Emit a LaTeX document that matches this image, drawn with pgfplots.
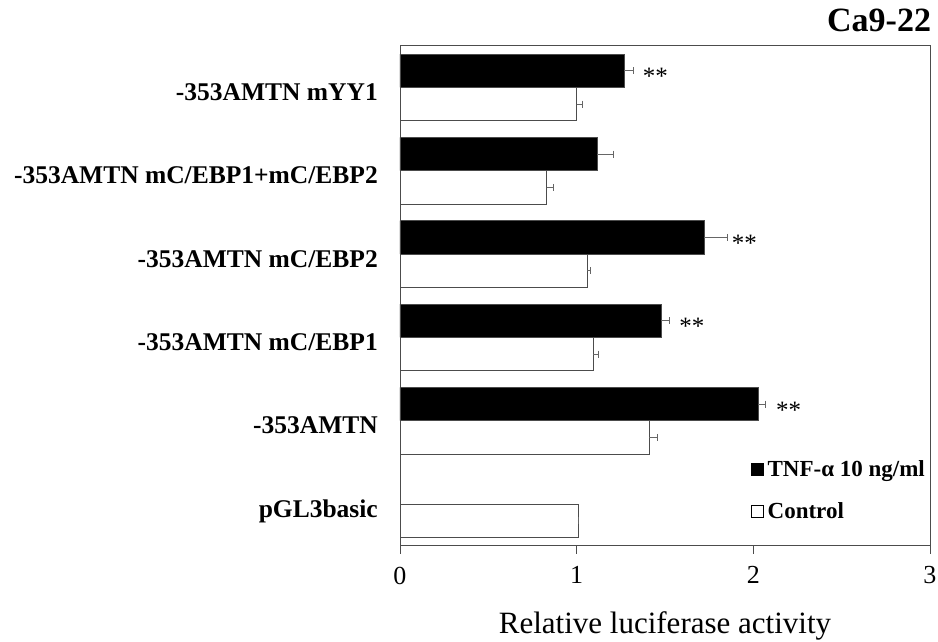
\documentclass[border=0pt]{standalone}
\usepackage{pgfplots}
\pgfplotsset{compat=1.18}
\usepackage{fontspec}
\setmainfont{Liberation Serif}
\pgfplotstableread{
y    tnf   tnferr
1.2  2.026 0.04
2.2  1.477 0.05
3.2  1.72  0.13
4.2  1.117 0.09
5.2  1.27  0.05
}\tnfdata
\pgfplotstableread{
y    ctl   ctlerr
-0.2 1.007 0.005
0.8  1.41  0.045
1.8  1.094 0.03
2.8  1.06  0.02
3.8  0.83  0.04
4.8  1.00  0.03
}\ctldata
\begin{document}
\begin{tikzpicture}[x=1pt,y=1pt]
\useasboundingbox (-400,-95.3) rectangle (538,545.7);
\begin{axis}[
  at={(0,0)}, anchor=south west,
  scale only axis, width=530pt, height=500pt,
  xmin=0, xmax=3, ymin=-0.5, ymax=5.5,
  axis line style={draw=black!70, line width=0.7pt},
  xtick={0,1,2,3}, ytick={0,1,2,3,4,5},
  yticklabels={pGL3basic,-353AMTN,-353AMTN mC/EBP1,-353AMTN mC/EBP2,-353AMTN mC/EBP1+mC/EBP2,-353AMTN mYY1},
  yticklabel style={font=\fontsize{25.5}{30}\selectfont\bfseries, anchor=base east, inner sep=0pt, xshift=-14pt, yshift=-13pt},
  ytick style={draw=none},
  xtick pos=lower, tick align=outside, major tick length=8pt,
  xtick style={draw=black!70, line width=0.7pt},
  xticklabel style={font=\fontsize{26}{30}\selectfont, yshift=-9.5pt},
  /pgf/number format/assume math mode=true,
  xlabel={Relative luciferase activity},
  xlabel style={font=\fontsize{31}{36}\selectfont, at={(axis description cs:0.5,-0.175)}, anchor=base},
  title={Ca9-22},
  title style={font=\fontsize{34}{40}\selectfont\bfseries, at={(axis description cs:0.904,1.028)}, anchor=base, yshift=-6pt},
  legend style={at={(rel axis cs:0.662,0.175)}, anchor=north west, draw=none, fill=none,
    font=\fontsize{23}{26}\selectfont\bfseries, row sep=21pt, inner sep=0pt,
    nodes={inner sep=2pt}, cells={anchor=west}},
  legend image code/.code={\draw[#1, draw=black, line width=0.6pt] (0pt,-6pt) rectangle (12pt,6pt);},
  legend cell align=left,
]
\addplot[xbar, bar width=0.4, bar shift=0, fill=black, draw=black!70, line width=0.6pt,
  error bars/.cd, x dir=plus, x explicit, error mark=|,
  error bar style={draw=black!60, line width=0.6pt},
  error mark options={draw=black!60, line width=0.6pt, mark size=3.5pt}]
  table[x=tnf, y=y, x error=tnferr] {\tnfdata};
\addlegendentry{\hspace{2pt}TNF-α 10 ng/ml}
\addplot[xbar, bar width=0.4, bar shift=0, fill=white, draw=black!70, line width=0.6pt,
  error bars/.cd, x dir=plus, x explicit, error mark=|,
  error bar style={draw=black!60, line width=0.6pt},
  error mark options={draw=black!60, line width=0.6pt, mark size=3.5pt}]
  table[x=ctl, y=y, x error=ctlerr] {\ctldata};
\addlegendentry{\hspace{2pt}Control}
\addplot[draw=none, mark=none, forget plot, point meta=explicit symbolic,
  nodes near coords, nodes near coords style={anchor=center, font=\fontsize{25}{28}\selectfont, yshift=-6pt}]
  coordinates {(1.446,5.2)[**] (1.95,3.2)[**] (1.652,2.2)[**] (2.2,1.2)[**]};
\end{axis}
\end{tikzpicture}
\end{document}
